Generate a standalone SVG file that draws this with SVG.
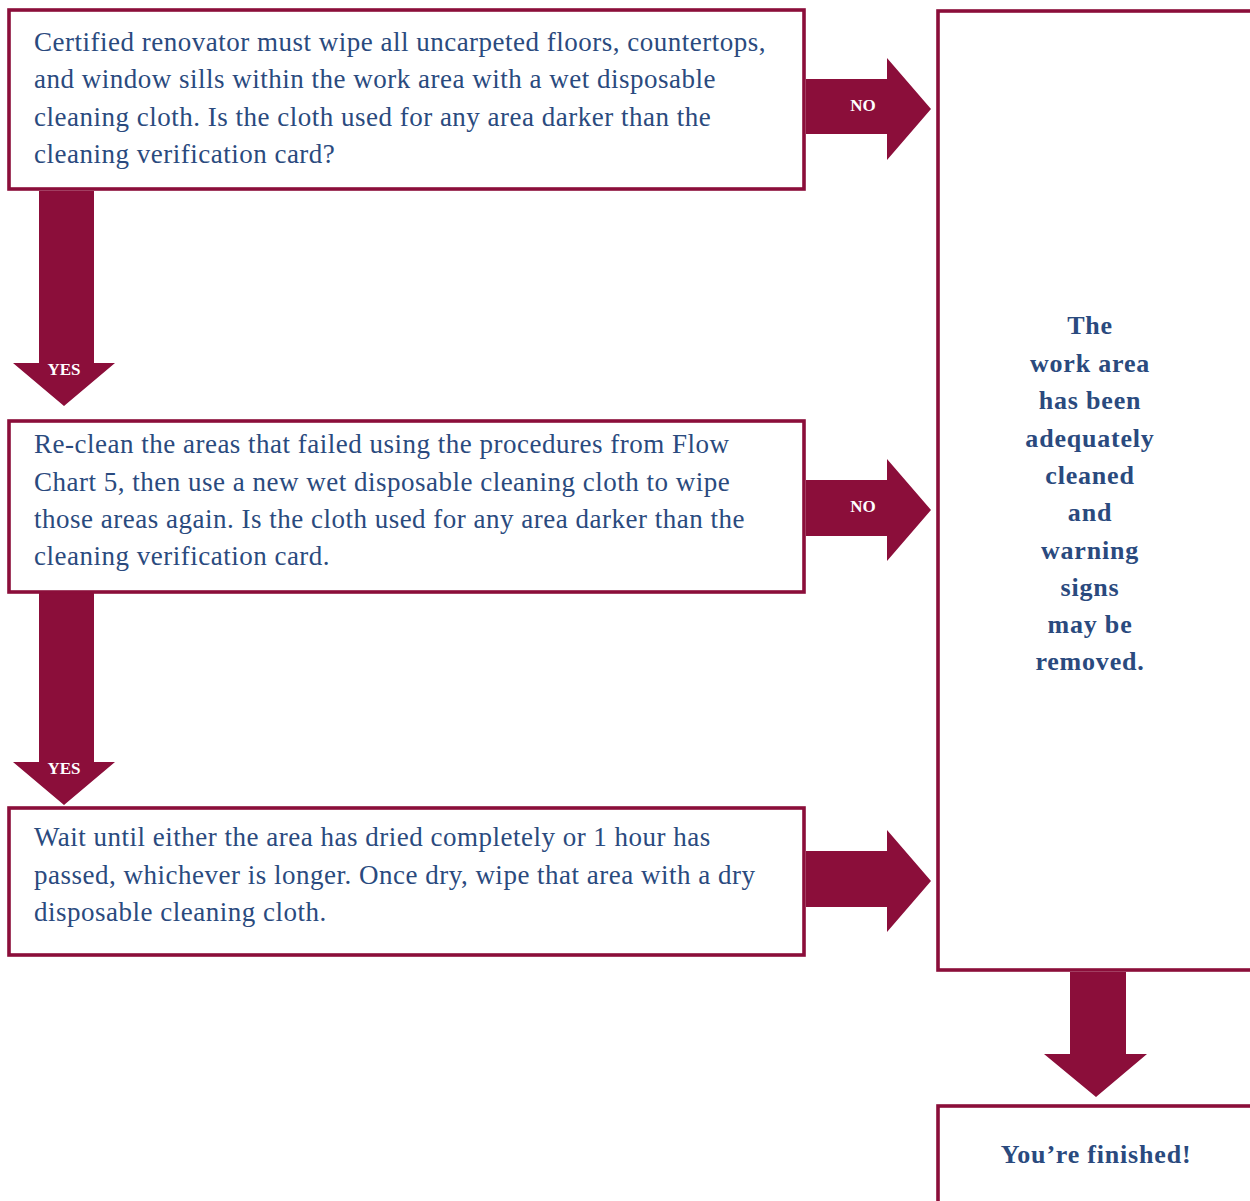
<svg xmlns="http://www.w3.org/2000/svg" width="1250" height="1201" viewBox="0 0 1250 1201">
<style>
.box{fill:#fff;stroke:#8b0e3a;stroke-width:3.6}
.arrow{fill:#8b0e3a}
.t{font-family:"Liberation Serif","Times New Roman",serif;font-size:27px;fill:#2a4a7e;letter-spacing:0.5px}
.b{font-family:"Liberation Serif","Times New Roman",serif;font-size:26px;font-weight:bold;fill:#2a4a7e;letter-spacing:0.8px;text-anchor:middle}
.lab{font-family:"Liberation Serif","Times New Roman",serif;font-size:17px;font-weight:bold;fill:#fff;text-anchor:middle}
</style>
<rect width="1250" height="1201" fill="#fff"/>
<g id="connectors">
  <g id="arrow-no-1"><polygon class="arrow" points="806,79 887,79 887,58 931,109 887,160 887,134 806,134"/><text class="lab" x="863" y="111">NO</text></g>
  <g id="arrow-no-2"><polygon class="arrow" points="806,480 887,480 887,459 931,510 887,561 887,536 806,536"/><text class="lab" x="863" y="512">NO</text></g>
  <g id="arrow-3"><polygon class="arrow" points="806,851 887,851 887,830 931,881 887,932 887,907 806,907"/></g>
  <g id="arrow-yes-1"><polygon class="arrow" points="39,191 94,191 94,363 115,363 64,406 13,363 39,363"/><text class="lab" x="64" y="375">YES</text></g>
  <g id="arrow-yes-2"><polygon class="arrow" points="39,593 94,593 94,762 115,762 64,805 13,762 39,762"/><text class="lab" x="64" y="774">YES</text></g>
  <g id="arrow-4"><polygon class="arrow" points="1070,972 1126,972 1126,1054 1147,1054 1096,1097 1044,1054 1070,1054"/></g>
</g>
<g id="node-1">
  <rect class="box" x="9" y="10" width="795" height="179"/>
  <text class="t" x="34" y="51">Certified renovator must wipe all uncarpeted floors, countertops,</text>
  <text class="t" x="34" y="88">and window sills within the work area with a wet disposable</text>
  <text class="t" x="34" y="126">cleaning cloth. Is the cloth used for any area darker than the</text>
  <text class="t" x="34" y="163">cleaning verification card?</text>
</g>
<g id="node-2">
  <rect class="box" x="9" y="421" width="795" height="171"/>
  <text class="t" x="34" y="453">Re-clean the areas that failed using the procedures from Flow</text>
  <text class="t" x="34" y="491">Chart 5, then use a new wet disposable cleaning cloth to wipe</text>
  <text class="t" x="34" y="528">those areas again. Is the cloth used for any area darker than the</text>
  <text class="t" x="34" y="565">cleaning verification card.</text>
</g>
<g id="node-3">
  <rect class="box" x="9" y="808" width="795" height="147"/>
  <text class="t" x="34" y="846">Wait until either the area has dried completely or 1 hour has</text>
  <text class="t" x="34" y="884">passed, whichever is longer. Once dry, wipe that area with a dry</text>
  <text class="t" x="34" y="921">disposable cleaning cloth.</text>
</g>
<g id="node-4">
  <rect class="box" x="938" y="11" width="330" height="959"/>
  <text class="b" x="1090" y="334">The</text>
  <text class="b" x="1090" y="372">work area</text>
  <text class="b" x="1090" y="409">has been</text>
  <text class="b" x="1090" y="447">adequately</text>
  <text class="b" x="1090" y="484">cleaned</text>
  <text class="b" x="1090" y="521">and</text>
  <text class="b" x="1090" y="559">warning</text>
  <text class="b" x="1090" y="596">signs</text>
  <text class="b" x="1090" y="633">may be</text>
  <text class="b" x="1090" y="670">removed.</text>
</g>
<g id="node-5">
  <rect class="box" x="938" y="1106" width="330" height="120"/>
  <text class="b" x="1096" y="1163">You’re finished!</text>
</g>
</svg>
